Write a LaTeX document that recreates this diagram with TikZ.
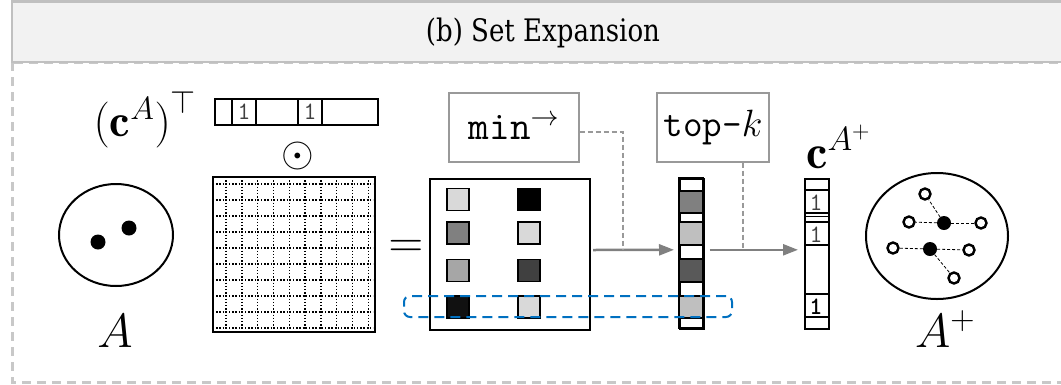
\RequirePackage{fix-cm}
\documentclass[tikz,border=0pt]{standalone}
\usepackage{fontspec}
\newfontfamily\titlefont[FakeStretch=0.84]{DejaVu Serif}
\usetikzlibrary{arrows.meta,calc,shapes.geometric}
\definecolor{hdrfill}{HTML}{F2F2F2}
\definecolor{hdrline}{HTML}{C0C0C0}
\definecolor{frameline}{HTML}{C8C8C8}
\definecolor{hlblue}{HTML}{0070C0}
\definecolor{flowgray}{HTML}{808080}
\definecolor{boxgray}{HTML}{999999}
\definecolor{ga}{HTML}{D9D9D9}
\definecolor{gb}{HTML}{808080}
\definecolor{gc}{HTML}{A6A6A6}
\definecolor{gd}{HTML}{404040}
\definecolor{ge}{HTML}{111111}
\definecolor{gf}{HTML}{BFBFBF}
\definecolor{gg}{HTML}{595959}
\begin{document}
\begin{tikzpicture}[x=1pt,y=-1pt,
  mathtxt/.style={inner sep=0pt, font=\fontsize{48}{52}\selectfont},
  setell/.style={draw, ellipse, line width=2pt, inner sep=0pt},
  dotA/.style={circle, fill=black, minimum size=15pt, inner sep=0pt},
  opennode/.style={circle, draw=black, fill=white, line width=2.4pt, minimum size=11pt, inner sep=0pt},
  edgeA/.style={line width=0.8pt, dash pattern=on 3pt off 2pt},
  vecbox/.style={draw, line width=1.6pt, inner sep=0pt, anchor=north west},
  cell/.style={draw, line width=1.5pt, minimum size=22pt, inner sep=0pt},
  one/.style={inner sep=0pt, text=black!75, font=\ttfamily\fontsize{25}{27}\selectfont},
  opbox/.style={draw=boxgray, line width=1.2pt, minimum width=130pt, minimum height=69pt, inner sep=0pt},
  flow/.style={draw=flowgray, line width=2.5pt, -{Triangle[length=15pt,width=11pt]}},
  ctrl/.style={draw=boxgray, line width=1.4pt, dash pattern=on 5pt off 3pt},
  hl/.style={draw=hlblue, line width=2pt, dash pattern=on 10pt off 6pt, rounded corners=6pt, inner sep=0pt}
]
\useasboundingbox (0,0) rectangle (1061,384);
\clip (0,0) rectangle (1061,384);
% frame
\draw[frameline, line width=3pt, dash pattern=on 9pt off 6pt] (12,62) rectangle (1085,382);
\draw[fill=hdrfill, draw=hdrline, line width=2.5pt] (12,1.5) rectangle (1085,62);
\node[inner sep=0pt] (title) at (543,33) {\titlefont\fontsize{31}{34}\selectfont (b) Set Expansion};

% set A
\node[setell, minimum width=114pt, minimum height=102pt] (setA) at (116,235) {};
\node[dotA] (a1) at (98,242) {};
\node[dotA] (a2) at (129,228) {};
\node[mathtxt, anchor=base] (labA) at (115,347) {$A$};

% row vector
\node[mathtxt, anchor=base, font=\fontsize{46}{50}\selectfont] (cAT) at (145,136) {$\bigl(\mathbf{c}^A\bigr)^{\top}$};
\node[vecbox, minimum width=163pt, minimum height=26pt] (rowv) at (214,98) {};
\foreach \x in {232,256,298,322} \draw[line width=1.4pt] (\x,98) -- (\x,124);
\node[one] (r1) at (244,112) {1};
\node[one] (r2) at (310,112) {1};

% odot
\node[inner sep=0pt, font=\fontsize{42}{46}\selectfont] (odot) at (298,156) {$\odot$};

% matrix
\node[draw, line width=2pt, minimum width=162pt, minimum height=155pt, inner sep=0pt, anchor=north west] (mat) at (212,176) {};
\foreach \i in {0,...,9} {
  \draw[line width=1.4pt, dash pattern=on 1.4pt off 1.8pt] ({226+15.8*\i},177) -- ({226+15.8*\i},330);
  \draw[line width=1.4pt, dash pattern=on 1.4pt off 1.8pt] (213,{184+16*\i}) -- (373,{184+16*\i});
}

% equals
\node[mathtxt] (eq) at (406,249) {$=$};

% result matrix
\node[draw, line width=2pt, minimum width=160pt, minimum height=151pt, inner sep=0pt, anchor=north west] (res) at (429,178) {};
\node[cell, fill=ga] (c11) at (458,199.5) {};
\node[cell, fill=black, draw=black] (c12) at (529,199.5) {};
\node[cell, fill=gb] (c21) at (458,233) {};
\node[cell, fill=ga] (c22) at (529,233) {};
\node[cell, fill=gc] (c31) at (458,270.5) {};
\node[cell, fill=gd] (c32) at (529,270.5) {};
\node[cell, fill=ge] (c41) at (458,307) {};
\node[cell, fill=ga] (c42) at (529,307) {};

% column vector 1
\node[vecbox, minimum width=24pt, minimum height=150pt] (col1) at (679,178) {};
\fill[gb] (679,191) rectangle (703,213);
\fill[gf] (679,222) rectangle (703,245);
\fill[gg] (679,259) rectangle (703,282);
\fill[gf] (679,296) rectangle (703,318);
\foreach \y in {191,213,222,245,259,282,296,318} \draw[line width=1.6pt] (679,\y) -- (703,\y);
\draw[line width=1.6pt] (679,178) rectangle (703,328);

% column vector 2
\node[vecbox, minimum width=24pt, minimum height=150pt] (col2) at (804,178) {};
\foreach \y in {190,213,216.5,222,245,294,317} \draw[line width=1.6pt] (804,\y) -- (828,\y);
\node[one] (k1) at (816,202.5) {1};
\node[one] (k2) at (816,234.5) {1};
\node[one, text=black, font=\ttfamily\bfseries\fontsize{25}{27}\selectfont] (k3) at (816,306.5) {1};
\node[mathtxt, anchor=base west] (cAp) at (806,168) {$\mathbf{c}^{A^+}$};

% highlight
\node[hl, minimum width=328pt, minimum height=21pt] (hlrow) at (568,306.5) {};

% operator boxes
\node[opbox] (minbox) at (514,127.5) {\fontsize{40}{44}\selectfont\texttt{min}$^{\rightarrow}$};
\node[opbox, minimum width=112pt] (topk) at (713,127.5) {\fontsize{38}{42}\selectfont\texttt{top-}$k$};

% flow arrows
\draw[flow] ([shift={(2,-4.5)}]res.east) -- ([shift={(-5,-4)}]col1.west);
\draw[flow] ([shift={(5,-4)}]col1.east) -- ([shift={(-6,-4)}]col2.west);
\coordinate (j1) at (623,249);
\coordinate (j2) at (743,249);
\draw[ctrl] ([yshift=-4.5]minbox.east) -| (j1);
\draw[ctrl] ([xshift=30]topk.south) -- (j2);

% set A+
\node[setell, minimum width=142pt, minimum height=126pt] (setAp) at (937,236) {};
\node[dotA, minimum size=14pt] (f1) at (944,223) {};
\node[dotA, minimum size=14pt] (f2) at (930,249) {};
\node[opennode] (o1) at (925,194) {};
\node[opennode] (o2) at (909,222) {};
\node[opennode] (o3) at (981,223) {};
\node[opennode] (o4) at (893,248) {};
\node[opennode] (o5) at (969,250) {};
\node[opennode] (o6) at (954,278) {};
\draw[edgeA] (f1) -- (o1);
\draw[edgeA] (f1) -- (o2);
\draw[edgeA] (f1) -- (o3);
\draw[edgeA] (f2) -- (o4);
\draw[edgeA] (f2) -- (o5);
\draw[edgeA] (f2) -- (o6);
\node[mathtxt, anchor=base west] (labAp) at (915,347) {$A^+$};
\end{tikzpicture}
\end{document}
